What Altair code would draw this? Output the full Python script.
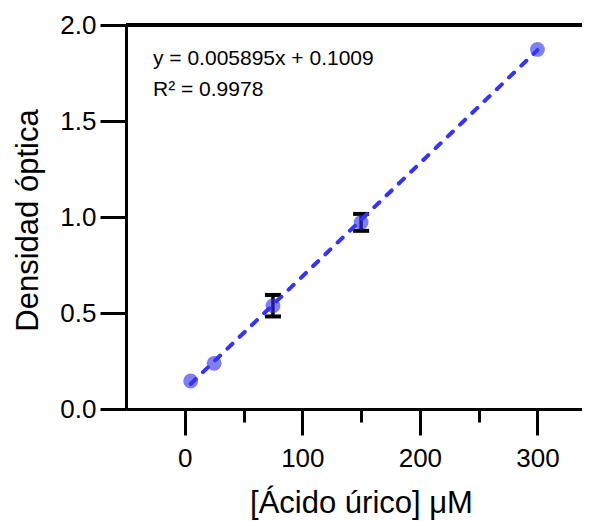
import altair as alt
import pandas as pd

# ---- data ----
conc = [5, 25, 75, 150, 300]                 # [Ácido úrico] µM
od = [0.146, 0.238, 0.538, 0.972, 1.873]     # Densidad óptica (mean)
err = [0.0, 0.0, 0.056, 0.044, 0.0]          # error bar half-width
slope = 0.005895
intercept = 0.1009
fit_x = [5, 300]
x_ticks = [0, 50, 100, 150, 200, 250, 300]
y_ticks = [0, 0.5, 1.0, 1.5, 2.0]
eq_line1 = "y = 0.005895x + 0.1009"
eq_line2 = "R² = 0.9978"

df = pd.DataFrame({"x": conc, "y": od, "e": err})
df["lo"] = df["y"] - df["e"]
df["hi"] = df["y"] + df["e"]
err_df = df[df["e"] > 0].reset_index(drop=True)
fit_df = pd.DataFrame({"x": fit_x})
fit_df["y"] = slope * fit_df["x"] + intercept
top_df = pd.DataFrame({"y": [2.0]})

FONT = "Liberation Sans"
W, H = 456, 384

xscale = alt.Scale(domain=[-50, 337.9], nice=False, zero=False)
yscale = alt.Scale(domain=[0, 2], nice=False, zero=False)

xaxis = alt.Axis(
    title="[Ácido úrico] μM", values=x_ticks,
    labelExpr="datum.value % 100 === 0 ? datum.label : ''",
    tickSize={"condition": {"test": "datum.value % 100 === 0", "value": 26}, "value": 13},
    tickWidth=3, tickColor="black", domainWidth=3, domainColor="black",
    labelFontSize=26, labelFont=FONT, labelColor="black", labelPadding=10,
    labelFlush=False, labelOverlap=False,
    titleFontSize=31, titleFont=FONT, titleFontWeight="normal", titleColor="black",
    titleX=235, titleY=103, titleBaseline="alphabetic", titleAnchor="middle",
    grid=False,
)
yaxis = alt.Axis(
    title="Densidad óptica", values=y_ticks, format=".1f",
    tickSize=26, tickWidth=3, tickColor="black", domainWidth=3, domainColor="black",
    labelFontSize=26, labelFont=FONT, labelColor="black", labelPadding=4,
    labelFlush=False, labelOverlap=False,
    titleFontSize=31, titleFont=FONT, titleFontWeight="normal", titleColor="black",
    titleX=-89, titleY=195, titleBaseline="alphabetic", titleAngle=270, titleAnchor="middle",
    grid=False,
)

X = lambda f: alt.X(f, type="quantitative", scale=xscale, axis=xaxis)
Y = lambda f: alt.Y(f, type="quantitative", scale=yscale, axis=yaxis)

top_rule = alt.Chart(top_df).mark_rule(color="black", strokeWidth=4).encode(y=Y("y"))

err_rule = alt.Chart(err_df).mark_rule(color="black", strokeWidth=3.5).encode(
    x=X("x"), y=Y("lo"), y2="hi")
err_cap_lo = alt.Chart(err_df).mark_tick(color="black", orient="horizontal", size=16, thickness=4, opacity=1).encode(
    x=X("x"), y=Y("lo"))
err_cap_hi = alt.Chart(err_df).mark_tick(color="black", orient="horizontal", size=16, thickness=4, opacity=1).encode(
    x=X("x"), y=Y("hi"))

points = alt.Chart(df).mark_circle(size=220, color="#3030ee", opacity=0.62).encode(
    x=X("x"), y=Y("y"))

fit = alt.Chart(fit_df).mark_line(color="#3434f2", strokeWidth=4, strokeDash=[7, 10], strokeCap="round").encode(
    x=X("x"), y=Y("y"))

txt1 = alt.Chart(pd.DataFrame({"t": [eq_line1]})).mark_text(
    align="left", baseline="alphabetic", font=FONT, fontSize=21, color="black").encode(
    text="t:N", x=alt.value(27), y=alt.value(40))
txt2 = alt.Chart(pd.DataFrame({"t": [eq_line2]})).mark_text(
    align="left", baseline="alphabetic", font=FONT, fontSize=21, color="black").encode(
    text="t:N", x=alt.value(27), y=alt.value(71))

chart = alt.layer(top_rule, err_rule, err_cap_lo, err_cap_hi, points, fit, txt1, txt2).properties(
    width=W, height=H,
    autosize=alt.AutoSizeParams(type="none"),
    padding={"left": 118, "top": 17, "right": 0, "bottom": 112},
).configure_view(stroke=None).configure(font=FONT)

chart.save("out.html", embed_options={"renderer": "svg", "actions": False})
